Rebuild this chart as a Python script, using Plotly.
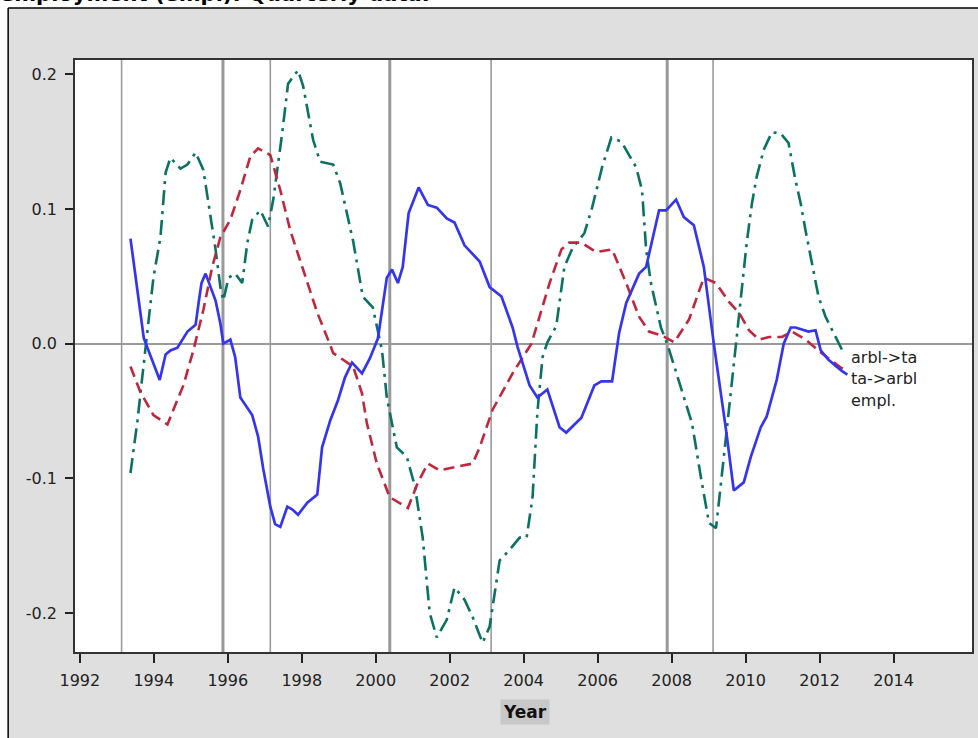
import plotly.graph_objects as go

# ---- data (year, value) ----
empl = [(1993.37, 0.078), (1993.73, 0.004), (1994.16, -0.027), (1994.32, -0.008), (1994.45, -0.005),
        (1994.64, -0.003), (1994.91, 0.009), (1995.13, 0.014), (1995.21, 0.030), (1995.29, 0.045),
        (1995.40, 0.052), (1995.67, 0.032), (1995.80, 0.015), (1995.88, 0.000), (1996.07, 0.003),
        (1996.20, -0.010), (1996.34, -0.040), (1996.53, -0.048), (1996.66, -0.053), (1996.82, -0.069),
        (1996.96, -0.093), (1997.15, -0.121), (1997.28, -0.134), (1997.42, -0.136), (1997.61, -0.121),
        (1997.74, -0.123), (1997.90, -0.127), (1998.15, -0.118), (1998.42, -0.112), (1998.55, -0.077),
        (1998.77, -0.057), (1998.98, -0.042), (1999.17, -0.025), (1999.36, -0.014), (1999.63, -0.022),
        (1999.84, -0.011), (2000.06, 0.004), (2000.30, 0.049), (2000.44, 0.055), (2000.60, 0.045),
        (2000.73, 0.057), (2000.89, 0.097), (2001.06, 0.109), (2001.16, 0.116), (2001.41, 0.103),
        (2001.65, 0.101), (2001.92, 0.093), (2002.13, 0.090), (2002.40, 0.073), (2002.81, 0.061),
        (2003.08, 0.042), (2003.40, 0.035), (2003.70, 0.012), (2003.83, -0.002), (2004.16, -0.031),
        (2004.37, -0.040), (2004.64, -0.034), (2004.97, -0.062), (2005.15, -0.066), (2005.56, -0.055),
        (2005.91, -0.031), (2006.10, -0.028), (2006.39, -0.028), (2006.58, 0.008), (2006.77, 0.030),
        (2007.12, 0.052), (2007.31, 0.057), (2007.66, 0.099), (2007.85, 0.099), (2008.12, 0.107),
        (2008.33, 0.094), (2008.60, 0.088), (2008.87, 0.057), (2009.14, 0.000), (2009.47, -0.064),
        (2009.68, -0.109), (2009.95, -0.103), (2010.14, -0.084), (2010.41, -0.062), (2010.57, -0.054),
        (2010.84, -0.027), (2011.03, 0.000), (2011.22, 0.012), (2011.35, 0.012), (2011.70, 0.009),
        (2011.89, 0.010), (2012.03, -0.005), (2012.24, -0.012), (2012.59, -0.020), (2012.75, -0.023)]

ta_arbl = [(1993.37, -0.017), (1993.64, -0.036), (1993.99, -0.053), (1994.37, -0.060), (1994.53, -0.049),
           (1994.80, -0.031), (1995.07, -0.005), (1995.34, 0.025), (1995.58, 0.057), (1995.80, 0.079),
           (1996.07, 0.092), (1996.34, 0.114), (1996.61, 0.139), (1996.82, 0.145), (1997.15, 0.140),
           (1997.42, 0.114), (1997.69, 0.084), (1998.04, 0.055), (1998.42, 0.023), (1998.77, -0.001),
           (1998.85, -0.007), (1999.39, -0.017), (1999.63, -0.037), (1999.76, -0.059), (2000.03, -0.089),
           (2000.38, -0.114), (2000.87, -0.122), (2001.14, -0.103), (2001.41, -0.089), (2001.73, -0.094),
           (2002.08, -0.092), (2002.62, -0.089), (2002.81, -0.077), (2003.16, -0.049), (2003.70, -0.022),
           (2004.21, 0.000), (2004.70, 0.045), (2005.02, 0.070), (2005.23, 0.075), (2005.56, 0.075),
           (2005.96, 0.068), (2006.39, 0.070), (2006.77, 0.045), (2007.12, 0.020), (2007.39, 0.009),
           (2007.74, 0.006), (2008.07, 0.001), (2008.47, 0.018), (2008.87, 0.049), (2009.20, 0.045),
           (2009.55, 0.031), (2009.82, 0.023), (2010.09, 0.010), (2010.36, 0.003), (2010.63, 0.005),
           (2010.98, 0.005), (2011.25, 0.009), (2011.62, 0.003), (2012.05, -0.007), (2012.59, -0.018),
           (2012.73, -0.019)]

arbl_ta = [(1993.37, -0.096), (1993.56, -0.057), (1993.70, -0.022), (1993.83, 0.012), (1993.99, 0.049),
           (1994.18, 0.079), (1994.32, 0.127), (1994.45, 0.138), (1994.72, 0.130), (1994.91, 0.133),
           (1995.13, 0.142), (1995.34, 0.129), (1995.53, 0.094), (1995.67, 0.070), (1995.80, 0.042),
           (1995.88, 0.032), (1996.02, 0.049), (1996.20, 0.052), (1996.39, 0.045), (1996.53, 0.075),
           (1996.66, 0.092), (1996.88, 0.099), (1997.09, 0.087), (1997.23, 0.107), (1997.47, 0.156),
           (1997.63, 0.193), (1997.90, 0.203), (1998.04, 0.191), (1998.31, 0.151), (1998.50, 0.135),
           (1998.85, 0.133), (1999.04, 0.119), (1999.39, 0.076), (1999.65, 0.035), (1999.92, 0.027),
           (2000.11, 0.003), (2000.17, -0.005), (2000.30, -0.040), (2000.57, -0.077), (2000.84, -0.084),
           (2001.06, -0.106), (2001.27, -0.144), (2001.46, -0.200), (2001.65, -0.218), (2001.92, -0.205),
           (2002.13, -0.181), (2002.40, -0.190), (2002.62, -0.203), (2002.89, -0.222), (2003.08, -0.210),
           (2003.35, -0.161), (2003.62, -0.153), (2003.89, -0.144), (2004.08, -0.144), (2004.24, -0.114),
           (2004.37, -0.051), (2004.51, -0.010), (2004.64, 0.001), (2004.88, 0.013), (2005.10, 0.057),
           (2005.32, 0.071), (2005.64, 0.082), (2005.85, 0.101), (2006.12, 0.131), (2006.37, 0.153),
           (2006.64, 0.150), (2007.04, 0.131), (2007.20, 0.114), (2007.31, 0.070), (2007.44, 0.045),
           (2007.71, 0.012), (2007.88, 0.000), (2008.20, -0.029), (2008.55, -0.059), (2008.79, -0.099),
           (2009.01, -0.133), (2009.20, -0.137), (2009.33, -0.106), (2009.49, -0.064), (2009.74, 0.000),
           (2009.90, 0.040), (2010.03, 0.075), (2010.17, 0.104), (2010.30, 0.124), (2010.49, 0.144),
           (2010.71, 0.157), (2010.95, 0.156), (2011.16, 0.149), (2011.35, 0.121), (2011.49, 0.104),
           (2011.62, 0.084), (2011.78, 0.062), (2011.97, 0.035), (2012.16, 0.020), (2012.43, 0.005),
           (2012.65, -0.007)]

peaks = [1995.87, 2000.38, 2007.88]            # thick reference lines
troughs = [1993.13, 1997.15, 2003.12, 2009.12]  # thin reference lines
x_ticks = list(range(1992, 2015, 2))
y_ticks = [-0.2, -0.1, 0.0, 0.1, 0.2]
y_ticklabels = ["-0.2", "-0.1", "0.0", "0.1", "0.2"]
series_labels = ["arbl->ta", "ta->arbl", "empl."]

W, H = 978, 738
ML, MR, MT, MB = 75, 4, 60, 86
PW, PH = W - ML - MR, H - MT - MB


def px_x(p):
    return (p - ML) / PW


def px_y(p):
    return (H - MB - p) / PH


fig = go.Figure()
fig.add_trace(go.Scatter(x=[p[0] for p in arbl_ta], y=[p[1] for p in arbl_ta], mode="lines",
                         line=dict(color="#0b7263", width=2.6, dash="15px,6px,3px,6px"),
                         name=series_labels[0]))
fig.add_trace(go.Scatter(x=[p[0] for p in ta_arbl], y=[p[1] for p in ta_arbl], mode="lines",
                         line=dict(color="#c0273d", width=2.6, dash="11px,6px"),
                         name=series_labels[1]))
fig.add_trace(go.Scatter(x=[p[0] for p in empl], y=[p[1] for p in empl], mode="lines",
                         line=dict(color="#3535ef", width=2.7),
                         name=series_labels[2]))

shapes = []
for xv in peaks:
    shapes.append(dict(type="line", xref="x", yref="paper", x0=xv, x1=xv, y0=0, y1=1,
                       line=dict(color="#999999", width=3), layer="below"))
for xv in troughs:
    shapes.append(dict(type="line", xref="x", yref="paper", x0=xv, x1=xv, y0=0, y1=1,
                       line=dict(color="#9a9a9a", width=1.6), layer="below"))
# white page margins and outer frame
shapes.append(dict(type="rect", xref="paper", yref="paper", x0=px_x(-20), x1=px_x(8),
                   y0=px_y(H + 20), y1=px_y(-20), fillcolor="white", line=dict(width=0), layer="below"))
shapes.append(dict(type="rect", xref="paper", yref="paper", x0=px_x(-20), x1=px_x(W + 20),
                   y0=px_y(8), y1=px_y(-20), fillcolor="white", line=dict(width=0), layer="below"))
shapes.append(dict(type="line", xref="paper", yref="paper", x0=px_x(8), x1=px_x(8),
                   y0=px_y(H + 20), y1=px_y(8), line=dict(color="black", width=1.5), layer="below"))
shapes.append(dict(type="line", xref="paper", yref="paper", x0=px_x(8), x1=px_x(W + 20),
                   y0=px_y(8), y1=px_y(8), line=dict(color="black", width=1.5), layer="below"))

annotations = []
# series labels at line ends
for lab, yp in zip(series_labels, [357, 378, 400]):
    annotations.append(dict(text=lab, xref="paper", yref="paper", x=px_x(851), y=px_y(yp),
                            xanchor="left", yanchor="middle", showarrow=False,
                            font=dict(family="DejaVu Sans", size=16, color="#222")))
# x axis title with grey highlight
annotations.append(dict(text="<b>Year</b>", xref="paper", yref="paper", x=px_x(526), y=px_y(712),
                        xanchor="center", yanchor="middle", showarrow=False, bgcolor="#c8c8c8",
                        borderpad=2, font=dict(family="DejaVu Sans", size=17, color="#111")))
# chart title, cut off at the top edge as in the reference
annotations.append(dict(text="<b>employment (empl): Quarterly data.</b>", xref="paper", yref="paper",
                        x=px_x(-1), y=px_y(7), xanchor="left", yanchor="bottom", showarrow=False,
                        borderpad=0, font=dict(family="DejaVu Sans", size=21, color="#000")))

fig.update_layout(
    width=W, height=H,
    margin=dict(l=ML, r=MR, t=MT, b=MB, pad=0),
    paper_bgcolor="#dfdfdf", plot_bgcolor="white",
    showlegend=False,
    shapes=shapes, annotations=annotations,
    font=dict(family="DejaVu Sans", size=16, color="#222"),
)
fig.update_xaxes(range=[1991.87, 2016.12], tickvals=x_ticks, ticks="outside", ticklen=9, tickwidth=1.5,
                 tickcolor="#222", showgrid=False, zeroline=False, showline=True, mirror=True,
                 linecolor="#333", linewidth=1.5, tickfont=dict(size=16, color="#222"),
                 ticklabelstandoff=4)
fig.update_yaxes(range=[-0.2289, 0.2106], tickvals=y_ticks, ticktext=y_ticklabels, ticks="outside",
                 ticklen=8, tickwidth=1.5, tickcolor="#222", showgrid=False, zeroline=True,
                 zerolinecolor="#9a9a9a", zerolinewidth=1.6, showline=True, mirror=True,
                 linecolor="#333", linewidth=1.5, tickfont=dict(size=16, color="#222"),
                 ticklabelstandoff=5)

fig.write_html("out.html")
